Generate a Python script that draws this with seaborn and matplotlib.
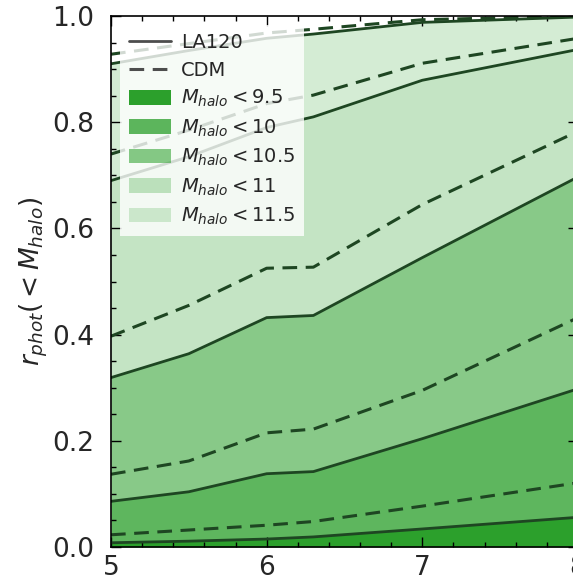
import seaborn as sns
import matplotlib.pyplot as plt
from matplotlib.lines import Line2D
from matplotlib.patches import Patch
from matplotlib.ticker import MultipleLocator

sns.set_style('ticks')
plt.rcParams['font.family'] = ['DejaVu Sans']
plt.rcParams['mathtext.fontset'] = 'dejavusans'

# redshift grid
z = [5.0, 5.5, 6.0, 6.3, 7.0, 8.0]

# halo mass thresholds (log M)
levels = ['9.5', '10', '10.5', '11', '11.5']

# LA120 (solid) cumulative fractions
la120_95 = [0.008, 0.011, 0.015, 0.019, 0.034, 0.056]
la120_10 = [0.086, 0.104, 0.138, 0.142, 0.204, 0.298]
la120_105 = [0.319, 0.364, 0.432, 0.436, 0.545, 0.697]
la120_11 = [0.690, 0.735, 0.790, 0.810, 0.879, 0.937]
la120_115 = [0.910, 0.935, 0.958, 0.966, 0.988, 0.998]

# CDM (dashed) cumulative fractions
cdm_95 = [0.023, 0.032, 0.041, 0.048, 0.077, 0.121]
cdm_10 = [0.137, 0.162, 0.215, 0.222, 0.295, 0.432]
cdm_105 = [0.397, 0.455, 0.525, 0.527, 0.645, 0.783]
cdm_11 = [0.740, 0.785, 0.835, 0.851, 0.911, 0.958]
cdm_115 = [0.928, 0.948, 0.968, 0.975, 0.993, 1.000]

la120 = [la120_95, la120_10, la120_105, la120_11, la120_115]
cdm = [cdm_95, cdm_10, cdm_105, cdm_11, cdm_115]

fill_alpha = [1.0, 0.76, 0.56, 0.28, 0.2]
base_green = '#2ca02c'
line_col = '#1e4622'
dash = (0, (4.8, 2.8))

fig = plt.figure(figsize=(5.73, 5.84), dpi=100)
ax = fig.add_axes([111 / 573, 37 / 584, 467 / 573, 531 / 584])
ax.set_axisbelow(False)

# filled bands between successive LA120 curves
lower = [0.0] * len(z)
for i, upper in enumerate(la120):
    ax.fill_between(z, lower, upper, color=base_green, alpha=fill_alpha[i],
                    linewidth=0, zorder=1)
    lower = upper

for i in range(len(levels)):
    sns.lineplot(x=z, y=la120[i], color=line_col, lw=2.0, ax=ax, zorder=3)
    sns.lineplot(x=z, y=cdm[i], color=line_col, lw=2.2, linestyle=dash,
                 ax=ax, zorder=3)

ax.set_xlim(5, 8)
ax.set_ylim(0, 1)
ax.xaxis.set_major_locator(MultipleLocator(1))
ax.xaxis.set_minor_locator(MultipleLocator(0.2))
ax.yaxis.set_major_locator(MultipleLocator(0.2))
ax.yaxis.set_minor_locator(MultipleLocator(0.05))
ax.tick_params(which='both', direction='in', top=True, right=True,
               color='k', width=1.0)
ax.tick_params(which='major', length=7, labelsize=19)
ax.tick_params(which='minor', length=3.5)
ax.tick_params(axis='y', which='major', pad=12)
ax.tick_params(axis='x', which='major', pad=6)
for sp in ax.spines.values():
    sp.set_color('k')
    sp.set_linewidth(1.2)
    sp.set_zorder(6)

ax.set_ylabel(r'$r_{phot}(<M_{halo})$', fontsize=19, labelpad=2)

handles = [Line2D([], [], color='0.3', lw=2.0),
           Line2D([], [], color='0.3', lw=2.2, linestyle=dash)]
labels = ['LA120', 'CDM']
for i, lev in enumerate(levels):
    handles.append(Patch(facecolor=base_green, alpha=fill_alpha[i], linewidth=0))
    labels.append(r'$M_{halo} < %s$' % lev)
leg = ax.legend(handles, labels, loc='upper left', fontsize=14,
                handlelength=2.2, handleheight=0.8, handletextpad=0.5,
                labelspacing=0.42, framealpha=0.8, fancybox=False,
                edgecolor='none', borderaxespad=0.45, borderpad=0.45)
leg.set_zorder(5)

fig.savefig('out.png', dpi=100)
